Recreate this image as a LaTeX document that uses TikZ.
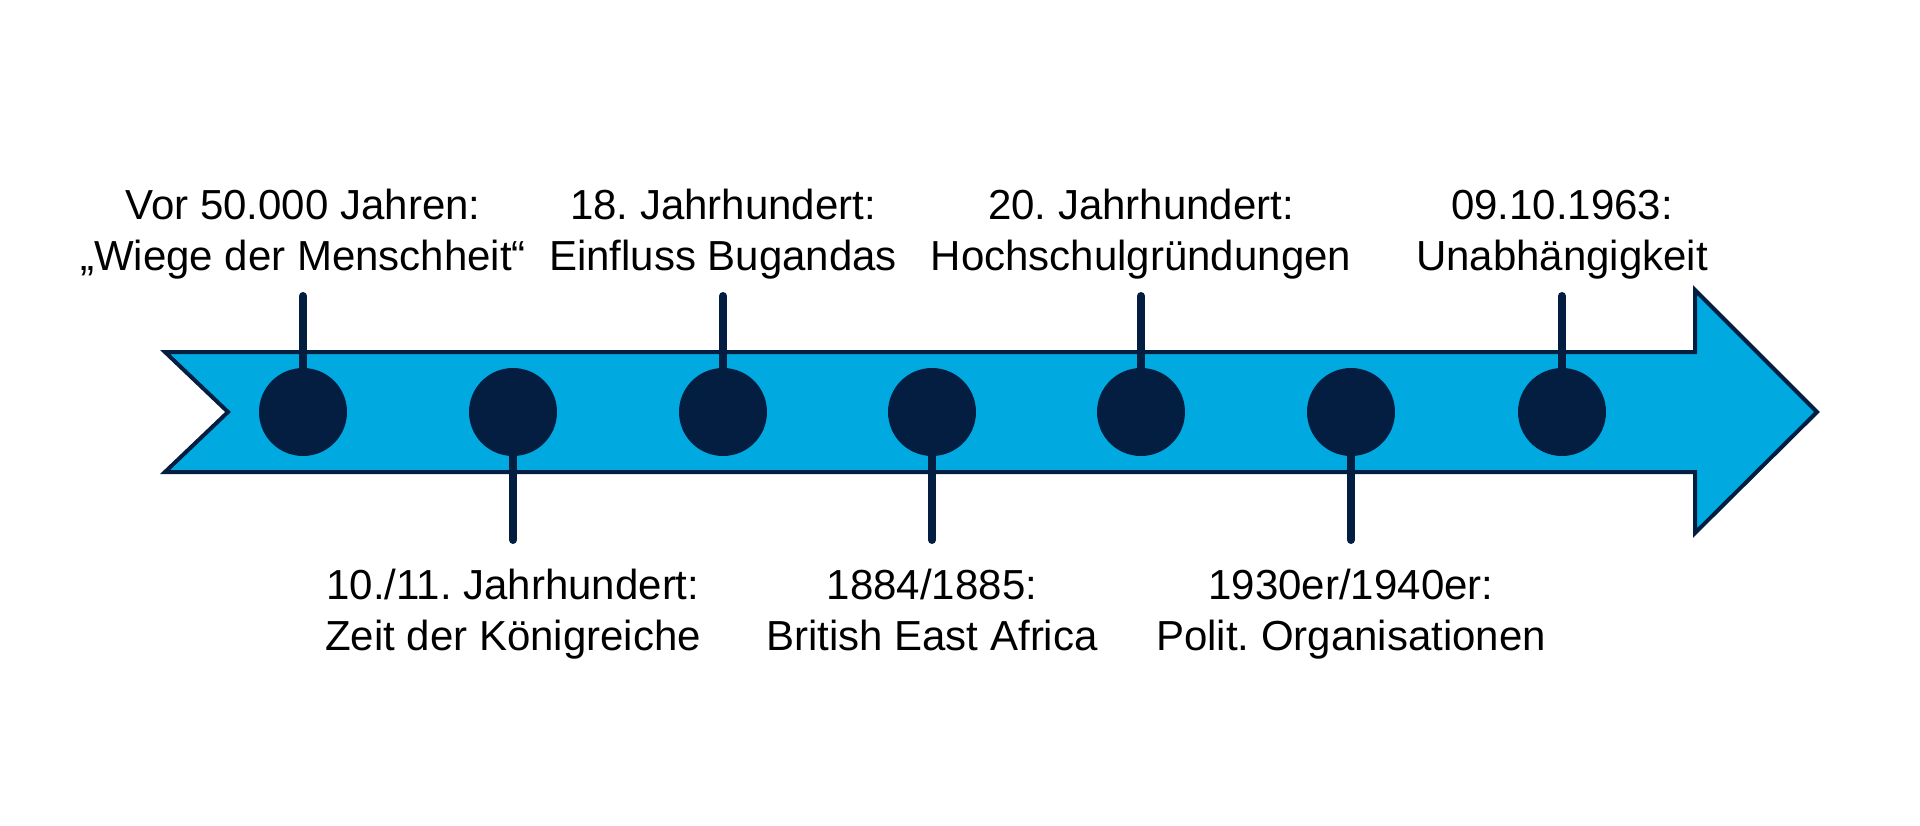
\documentclass[tikz,border=0pt]{standalone}
\usepackage{fontspec}
\setmainfont{Liberation Sans}
\definecolor{arrowblue}{RGB}{0,170,225}
\definecolor{navy}{RGB}{4,30,66}
\frenchspacing
\begin{document}
\begin{tikzpicture}[x=1pt,y=-1pt,
  dot/.style={circle,fill=navy,minimum size=88pt,inner sep=0pt},
  stem/.style={draw=navy,line width=8pt,line cap=round},
  lbl/.style={align=center,inner sep=0pt,anchor=base,font=\fontsize{42pt}{51pt}\selectfont},
]
\useasboundingbox (0,0) rectangle (1920,825);
% arrow
\draw[fill=arrowblue,draw=navy,line width=4pt,miter limit=10]
  (165,352) -- (1695,352) -- (1695,290) -- (1817,412) -- (1695,533)
  -- (1695,472) -- (165,472) -- (228,412) -- cycle;
% dots
\foreach \i/\x in {1/303,2/513,3/723,4/932,5/1141,6/1351,7/1562}{
  \node[dot] (c\i) at (\x,412) {};
}
% stem ends
\coordinate (t1) at (303,296);
\coordinate (t2) at (513,540);
\coordinate (t3) at (723,296);
\coordinate (t4) at (932,540);
\coordinate (t5) at (1141,296);
\coordinate (t6) at (1351,540);
\coordinate (t7) at (1562,296);
\draw[stem] (c1.north) -- (t1);
\draw[stem] (c2.south) -- (t2);
\draw[stem] (c3.north) -- (t3);
\draw[stem] (c4.south) -- (t4);
\draw[stem] (c5.north) -- (t5);
\draw[stem] (c6.south) -- (t6);
\draw[stem] (c7.north) -- (t7);
% labels (base anchor = baseline of the last line)
\node[lbl] (l1) at (303,270) {Vor 50.000 Jahren:\\„Wiege der Menschheit“};
\node[lbl] (l2) at (513,650) {10./11. Jahrhundert:\\Zeit der Königreiche};
\node[lbl] (l3) at (723,270) {18. Jahrhundert:\\Einfluss Bugandas};
\node[lbl] (l4) at (932,650) {1884/1885:\\British East Africa};
\node[lbl] (l5) at (1141,270) {20. Jahrhundert:\\Hochschulgründungen};
\node[lbl] (l6) at (1351,650) {1930er/1940er:\\Polit. Organisationen};
\node[lbl] (l7) at (1562,270) {09.10.1963:\\Unabhängigkeit};
\end{tikzpicture}
\end{document}
